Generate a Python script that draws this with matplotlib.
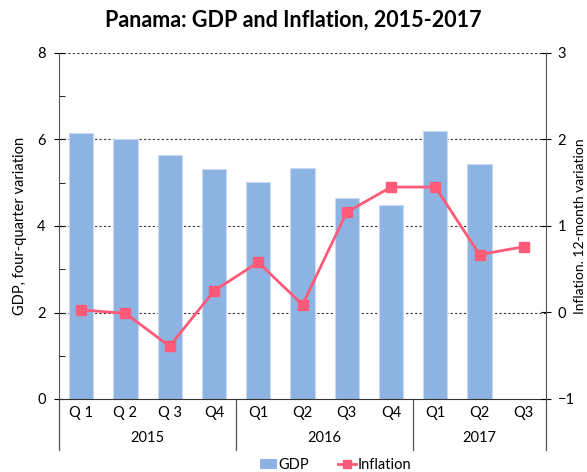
import matplotlib
matplotlib.use("Agg")
import matplotlib.pyplot as plt
import matplotlib.transforms as mtransforms
from matplotlib.lines import Line2D
from matplotlib.patches import Patch

plt.rcParams['font.family'] = ['Lato', 'DejaVu Sans']

quarters = ["Q 1", "Q 2", "Q 3", "Q4", "Q1", "Q2", "Q3", "Q4", "Q1", "Q2", "Q3"]
years = ["2015", "2016", "2017"]
year_spans = [(0, 4), (4, 8), (8, 11)]
gdp = [6.16, 6.00, 5.65, 5.32, 5.02, 5.33, 4.65, 4.49, 6.19, 5.43, None]
inflation = [0.03, -0.01, -0.39, 0.25, 0.58, 0.09, 1.16, 1.45, 1.45, 0.67, 0.76]

bar_color = "#8DB3E2"
line_color = "#FF5A78"

fig = plt.figure(figsize=(5.87, 4.72), dpi=100)
ax = fig.add_axes([59/587, 1-399/472, (546-59)/587, (399-53)/472])
x = list(range(len(quarters)))
gx = [i for i, v in zip(x, gdp) if v is not None]
gv = [v for v in gdp if v is not None]
ax.bar(gx, gv, width=0.55, color=bar_color, edgecolor="#C9DAF0", linewidth=0.8, zorder=2)
ax.set_xlim(-0.5, len(quarters) - 0.5)
ax.set_ylim(0, 8)
ax.set_yticks([0, 2, 4, 6, 8])
ax.set_yticks([1, 3, 5, 7], minor=True)
for yv in [2, 4, 6, 8]:
    ax.axhline(yv, color="#333333", linestyle=(0, (2, 2)), linewidth=0.8, zorder=1)
ax.tick_params(axis='y', which='major', direction='inout', length=7, labelsize=10.5, pad=6)
ax.tick_params(axis='y', which='minor', direction='in', length=4)
ax.set_xticks(x)
ax.set_xticklabels(quarters, fontsize=10.5)
ax.tick_params(axis='x', length=0, pad=5)
ax.spines['top'].set_visible(False)
ax.spines['left'].set_color("#555555")
ax.spines['bottom'].set_color("#333333")
ax.spines['right'].set_visible(False)
ax.set_ylabel("GDP, four-quarter variation", fontsize=10.5)
ax.yaxis.set_label_coords(-0.066, 0.5)

trans = mtransforms.blended_transform_factory(ax.transData, ax.transAxes)
bounds = [-0.5, 3.5, 7.5, 10.5]
for bx in bounds:
    ax.plot([bx, bx], [0, -51/346], transform=trans, color="#555555", linewidth=0.9, clip_on=False)
for (a, b), yr in zip(year_spans, years):
    ax.text((a + b - 1) / 2, -39/346, yr, transform=trans, ha='center', va='center', fontsize=10.5)

ax2 = ax.twinx()
ax2.set_ylim(-1, 3)
ax2.set_yticks([-1, 0, 1, 2, 3])
ax2.plot(x, inflation, color=line_color, linewidth=2, marker='s', markersize=7, zorder=3)
ax2.tick_params(axis='y', direction='inout', length=7, labelsize=10.5, pad=5)
ax2.spines['top'].set_visible(False)
ax2.spines['left'].set_visible(False)
ax2.spines['bottom'].set_visible(False)
ax2.spines['right'].set_color("#555555")
ax2.set_ylabel("Inflation. 12-month variation", fontsize=10, rotation=90)
ax2.yaxis.set_label_coords(1.058, 0.5)

fig.text(0.5, 1-20/472, "Panama: GDP and Inflation, 2015-2017", ha='center', va='center',
         fontsize=15.5, fontweight='bold')

handles = [Patch(facecolor=bar_color, label="GDP"),
           Line2D([], [], color=line_color, linewidth=2, marker='s', markersize=6, label="Inflation")]
fig.legend(handles=handles, loc='center', bbox_to_anchor=(0.571, 1-465/472), ncol=2, frameon=False,
           fontsize=10.5, handlelength=1.2, handletextpad=0.1, columnspacing=2.0)

fig.savefig("out.png", dpi=100)
